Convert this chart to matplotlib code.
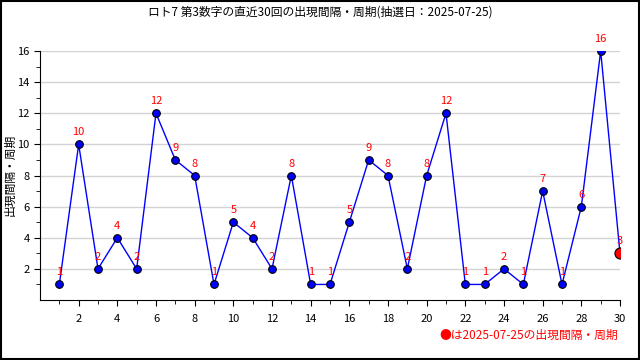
import matplotlib
matplotlib.use("Agg")
import matplotlib.pyplot as plt
from matplotlib.patches import Rectangle

plt.rcParams['font.family'] = ['Noto Sans CJK JP', 'DejaVu Sans']

draws = list(range(1, 31))
intervals = [1, 10, 2, 4, 2, 12, 9, 8, 1, 5, 4, 2, 8, 1, 1, 5, 9, 8, 2, 8, 12, 1, 1, 2, 1, 7, 1, 6, 16, 3]
title = "ロト7 第3数字の直近30回の出現間隔・周期(抽選日：2025-07-25)"
ylabel = "出現間隔・周期"
note = "●は2025-07-25の出現間隔・周期"

fig = plt.figure(figsize=(6.4, 3.6), dpi=100)
ax = fig.add_axes([40/640, 1-300/360, 580/640, 249/360])

ax.plot(draws, intervals, color='#0000ff', lw=1, zorder=3)
ax.plot(draws[:-1], intervals[:-1], 'o', ms=5.5, mfc='#0000ff', mec='black', mew=0.8, zorder=4)
ax.plot(draws[-1:], intervals[-1:], 'o', ms=8, mfc='#ff0000', mec='black', mew=0.8, zorder=5)
for x, y in zip(draws, intervals):
    ax.annotate(str(y), (x, y), xytext=(0, 5), textcoords='offset points',
                ha='center', va='bottom', color='#ff0000', fontsize=8, zorder=6)

ax.set_xlim(0, 30)
ax.set_ylim(0, 16)
ax.set_xticks(range(2, 31, 2))
ax.set_xticks(range(1, 31), minor=True)
ax.set_yticks(range(2, 17, 2))
ax.set_yticks(range(1, 17), minor=True)
ax.tick_params(axis='both', which='major', length=4, labelsize=8, direction='out')
ax.tick_params(axis='both', which='minor', length=3, direction='out')
ax.tick_params(axis='x', pad=6)
ax.grid(axis='y', which='major', color='#d3d3d3', lw=1, zorder=0)
for s in ['top', 'right']:
    ax.spines[s].set_visible(False)

fig.text(10/640, 1-175/360, ylabel, rotation=90, ha='center', va='center', fontsize=8.5)
fig.text(0.5, 1-12/360, title, ha='center', va='center', fontsize=8.5)
fig.text(618/640, 1-335/360, note, ha='right', va='center', fontsize=8.5, color='#ff0000')
fig.patches.append(Rectangle((0.001, 0.002), 0.997, 0.996, transform=fig.transFigure,
                             fill=False, ec='black', lw=1.5))

fig.savefig('out.png', dpi=100)
